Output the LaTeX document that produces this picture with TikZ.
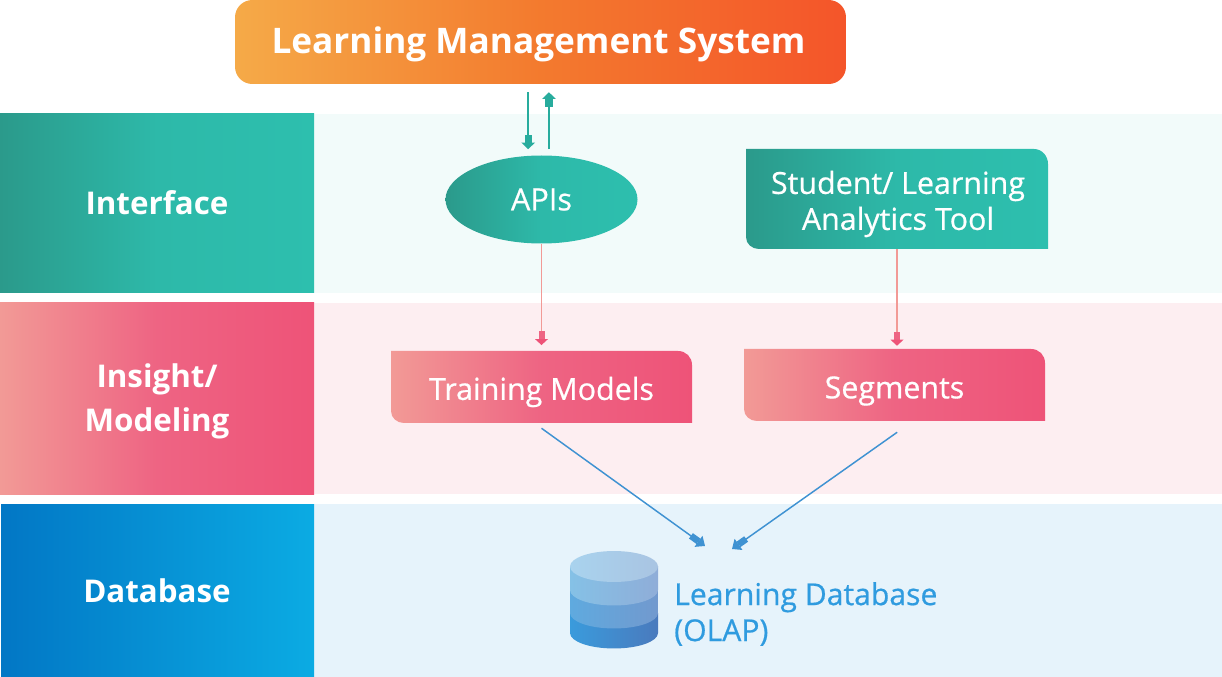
\documentclass[tikz,border=0pt]{standalone}
\usepackage{fontspec}
\setmainfont{Open Sans}
\newfontfamily\medfont[FakeBold=0.6]{Open Sans}
\usetikzlibrary{arrows.meta,shapes.geometric,calc}
\definecolor{tealA}{HTML}{2B9A8B}
\definecolor{tealM}{HTML}{2DB9A9}
\definecolor{tealB}{HTML}{2DBFAE}
\definecolor{pinkA}{HTML}{F29A96}
\definecolor{pinkM}{HTML}{EE6483}
\definecolor{pinkB}{HTML}{EE5378}
\definecolor{blueA}{HTML}{0277C5}
\definecolor{blueB}{HTML}{0BABE3}
\definecolor{orA}{HTML}{F5AA48}
\definecolor{orM}{HTML}{F37A2E}
\definecolor{orB}{HTML}{F4552A}
\definecolor{arrBlue}{HTML}{3F92D2}
\definecolor{dbText}{HTML}{2F9BDF}
\definecolor{bandT}{HTML}{F2FBFA}
\definecolor{bandP}{HTML}{FDEEF1}
\definecolor{bandB}{HTML}{E6F3FB}
\definecolor{cylA}{HTML}{3A9BDC}
\definecolor{cylB}{HTML}{4A7ABD}
\definecolor{cylC}{HTML}{5FAADF}
\definecolor{cylD}{HTML}{7299CE}
\definecolor{cylE}{HTML}{85C1E6}
\definecolor{cylF}{HTML}{8FADD8}
\definecolor{cylG}{HTML}{A9D3EE}
\definecolor{cylH}{HTML}{A9C4E2}
\tikzset{
  x=0.75pt,y=-0.75pt,
  tealshade/.style={left color=tealA,right color=tealB,middle color=tealM},
  pinkshade/.style={left color=pinkA,right color=pinkB,middle color=pinkM},
  blueshade/.style={left color=blueA,right color=blueB},
  lbl/.style={text=white,font=\fontsize{23.5pt}{33pt}\selectfont\bfseries,align=center,inner sep=0pt},
  boxtxt/.style={text=white,font=\medfont\fontsize{22.8pt}{27pt}\selectfont,align=center,inner sep=0pt},
  tealarr/.style={draw=tealB!90!black,line width=1.5pt,-{Rectangle[length=6pt,width=5.5pt]Triangle[length=5pt,width=10pt]}},
  pinkarr/.style={draw=pinkA,line width=1.1pt,-{Rectangle[length=6pt,width=4.5pt,color=pinkM]Triangle[length=4.5pt,width=9.5pt,color=pinkB]}},
  bluearr/.style={draw=arrBlue,line width=1.1pt,-{Rectangle[length=7pt,width=5pt]Triangle[length=6pt,width=10pt]}},
}
\begin{document}
\begin{tikzpicture}
\useasboundingbox (0,0) rectangle (1222,677);
\fill[white] (0,0) rectangle (1222,677);
\fill[bandT] (314,114) rectangle (1222,293);
\fill[bandP] (314,303) rectangle (1222,494);
\fill[bandB] (314,504) rectangle (1222,677);
\shade[tealshade] (0,114) rectangle (314,293);
\shade[pinkshade] (0,303) rectangle (314,494);
\shade[blueshade] (1,504) rectangle (314,677);
\node[lbl] (interface) at (157,203) {Interface};
\node[lbl] (insight) at (157,401) {Insight/\\Modeling};
\node[lbl] (database) at (157,591) {Database};
\shade[left color=orA,right color=orB,middle color=orM,rounded corners=13pt] (235,0) rectangle (846,84);
\node[text=white,font=\fontsize{26.4pt}{32pt}\selectfont\bfseries,inner sep=0pt,minimum width=458pt,minimum height=63pt] (lms) at (538.5,44) {Learning Management System};
\node[ellipse,tealshade,minimum width=144pt,minimum height=66pt,inner sep=0pt,text=white,font=\medfont\fontsize{23pt}{27pt}\selectfont] (apis) at (541.5,199.5) {APIs};
\shade[tealshade] (746,149) -- (746,237) .. controls (746,244) and (752,249) .. (759,249) -- (1048,249) -- (1048,164) .. controls (1048,156) and (1042,149) .. (1034,149) -- cycle;
\node[boxtxt,minimum width=226.5pt,minimum height=60pt] (tool) at (898,204) {Student/ Learning\\Analytics Tool};
\shade[pinkshade] (391,351) -- (391,411) .. controls (391,418) and (397,423) .. (404,423) -- (692,423) -- (692,365) .. controls (692,357) and (686,351) .. (678,351) -- cycle;
\node[boxtxt,minimum width=226.5pt,minimum height=54pt] (tm) at (541.5,392) {Training Models};
\shade[pinkshade] (744,349) -- (744,409) .. controls (744,416) and (750,421) .. (757,421) -- (1045,421) -- (1045,363) .. controls (1045,355) and (1039,349) .. (1031,349) -- cycle;
\node[boxtxt,minimum width=226.5pt,minimum height=54pt] (seg) at (894.5,391) {Segments};
\shade[left color=cylA,right color=cylB] (570,613) -- (570,633) arc[start angle=180,end angle=360,x radius=33pt,y radius=11.6pt] -- (658,613) -- cycle;
\shade[left color=cylC,right color=cylD] (570,590) -- (570,613) arc[start angle=180,end angle=360,x radius=33pt,y radius=11.6pt] -- (658,590) -- cycle;
\shade[left color=cylE,right color=cylF] (570,566) -- (570,590) arc[start angle=180,end angle=360,x radius=33pt,y radius=11.6pt] -- (658,566) -- cycle;
\node[ellipse,left color=cylG,right color=cylH,minimum width=66pt,minimum height=23.2pt,inner sep=0pt] (dbtop) at (614,566.5) {};
\node[anchor=west,text=dbText,font=\medfont\fontsize{22.6pt}{27pt}\selectfont,align=left,inner sep=0pt] (dblabel) at (674,614) {Learning Database\\(OLAP)};
\coordinate (inL) at (705,546);
\coordinate (inR) at (732,549);
\coordinate (dnA) at ([xshift=-10pt]apis.north);
\coordinate (upA) at ([xshift=5.6pt]apis.north);
\coordinate (toolOut) at ([xshift=-0.75pt,yshift=-3.75pt]tool.south);
\draw[tealarr,shorten <=4.5pt,shorten >=4.5pt] (dnA |- lms.south) -- (dnA);
\draw[tealarr,shorten <=4.5pt,shorten >=4.5pt] (upA) -- (upA |- lms.south);
\draw[pinkarr,shorten >=8pt] (apis.south) -- (tm.north);
\draw[pinkarr,shorten >=6.75pt] (toolOut) -- (toolOut |- seg.north);
\draw[bluearr] (tm.south) -- (inL);
\draw[bluearr] ([xshift=2pt,yshift=-3.75pt]seg.south) -- (inR);
\end{tikzpicture}
\end{document}
